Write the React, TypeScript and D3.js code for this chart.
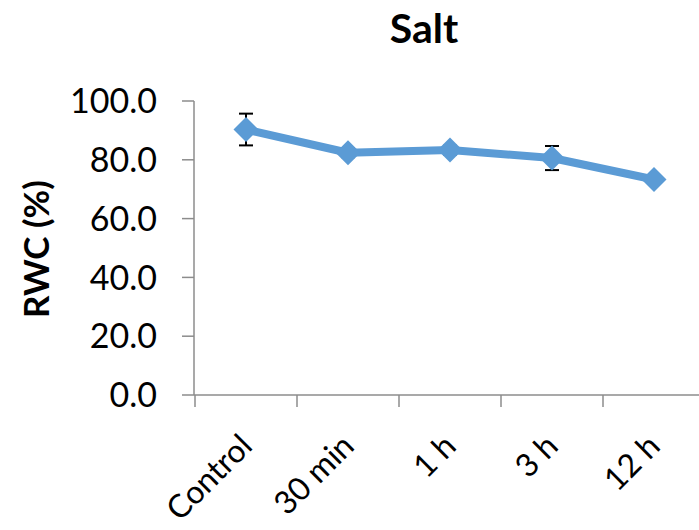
import React from "react";
import * as d3 from "d3";

const categories = ["Control", "30 min", "1 h", "3 h", "12 h"];
const values = [90.3, 82.4, 83.3, 80.6, 73.3];
const errors = [5.4, 1.5, 1.5, 4.1, 1.5];
const yTicks = [0, 20, 40, 60, 80, 100];
const title = "Salt";
const yTitle = "RWC (%)";

const W = 699;
const H = 530;
const FONT = "Lato, 'Open Sans', sans-serif";
const BLUE = "#5B9BD5";
const AXIS = "#8c8c8c";

export default function App() {
  const x = d3.scaleBand<string>().domain(categories).range([195, 705]).padding(0);
  const y = d3.scaleLinear().domain([0, 100]).range([395, 101]);
  const cx = (c: string) => (x(c) as number) + x.bandwidth() / 2;
  const pts = categories.map((c, i) => ({ c, v: values[i], e: errors[i] }));
  const line = d3
    .line<{ c: string; v: number }>()
    .x((d) => cx(d.c))
    .y((d) => y(d.v));
  const diamond = d3.symbol(d3.symbolDiamond2, 400)();
  const bounds = [...categories.map((c) => x(c) as number), 705];

  return (
    <svg
      width={W}
      height={H}
      style={{ position: "absolute", left: 0, top: 0, background: "#fff" }}
      fontFamily={FONT}
    >
      <rect width={W} height={H} fill="#fff" />
      <text x={424} y={43} textAnchor="middle" fontWeight="bold" fontSize={41} fill="#000">
        {title}
      </text>
      <text
        transform={`translate(49,249) rotate(-90)`}
        textAnchor="middle"
        fontWeight="bold"
        fontSize={35}
        fill="#000"
      >
        {yTitle}
      </text>
      {/* y axis */}
      <line x1={194} x2={194} y1={y(100)} y2={y(0)} stroke={AXIS} strokeWidth={1.5} />
      {yTicks.map((t) => (
        <g key={t}>
          <line x1={182} x2={194} y1={y(t)} y2={y(t)} stroke={AXIS} strokeWidth={1.5} />
          <text x={157} y={y(t)} dy="0.36em" textAnchor="end" fontSize={34} fill="#000">
            {d3.format(".1f")(t)}
          </text>
        </g>
      ))}
      {/* x axis */}
      <line x1={194} x2={705} y1={y(0)} y2={y(0)} stroke={AXIS} strokeWidth={1.5} />
      {bounds.map((b, i) => (
        <line key={i} x1={b} x2={b} y1={y(0)} y2={y(0) + 12} stroke={AXIS} strokeWidth={1.5} />
      ))}
      {categories.map((c) => (
        <text
          key={c}
          transform={`translate(${cx(c) + 8},448) rotate(-45)`}
          textAnchor="end"
          fontSize={32}
          fill="#000"
        >
          {c}
        </text>
      ))}
      {/* line */}
      <path d={line(pts) as string} fill="none" stroke={BLUE} strokeWidth={8} strokeLinejoin="round" />
      {/* error bars */}
      {pts.map((p) => (
        <g key={"e" + p.c} stroke="#000" strokeWidth={2}>
          <line x1={cx(p.c)} x2={cx(p.c)} y1={y(p.v - p.e)} y2={y(p.v + p.e)} />
          <line x1={cx(p.c) - 7} x2={cx(p.c) + 7} y1={y(p.v - p.e)} y2={y(p.v - p.e)} />
          <line x1={cx(p.c) - 7} x2={cx(p.c) + 7} y1={y(p.v + p.e)} y2={y(p.v + p.e)} />
        </g>
      ))}
      {/* markers */}
      {pts.map((p) => (
        <path key={"m" + p.c} d={diamond as string} transform={`translate(${cx(p.c)},${y(p.v)})`} fill={BLUE} />
      ))}
    </svg>
  );
}
